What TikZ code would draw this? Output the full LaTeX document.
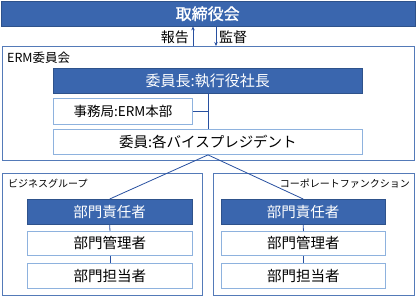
\documentclass[tikz,border=0pt]{standalone}
\usepackage{fontspec}
\setmainfont[AutoFakeBold=1.2]{Noto Sans CJK JP}
\usetikzlibrary{arrows.meta}
\definecolor{hdblue}{RGB}{58,102,174}
\definecolor{outerline}{RGB}{84,122,184}
\definecolor{innerline}{RGB}{142,178,222}
\definecolor{lnblue}{RGB}{40,80,160}
\tikzset{
  box/.style={draw, minimum width=#1, minimum height=25pt, inner sep=0pt, anchor=north west},
  hdbox/.style={box=#1, fill=hdblue, draw=hdblue!80!black, text=white},
  wbox/.style={box=#1, fill=white, draw=innerline, line width=0.9pt},
  outer/.style={draw=outerline, line width=0.9pt, fill=white},
  conn/.style={draw=lnblue, line width=0.8pt},
}
\begin{document}
\begin{tikzpicture}[x=1pt,y=-1pt]
\useasboundingbox (0,0) rectangle (416,297);
% board
\node[hdbox=414pt, minimum height=25pt, font=\fontsize{16}{18}\selectfont\bfseries] (board) at (0.5,1) {取締役会};
% ERM outer
\node[outer, minimum width=412pt, minimum height=114pt, anchor=north west, inner sep=0pt] (erm) at (2,46) {};
\node[anchor=north west, inner sep=0pt, font=\fontsize{12.5}{14}\selectfont] (ermlbl) at (7,52) {ERM委員会};
% arrows
\coordinate (upstart) at (193,46);
\coordinate (dnend) at (216,46);
\draw[conn, -{Stealth[length=4pt,width=3.5pt]}] (upstart) -- (upstart |- board.south);
\draw[conn, {Stealth[length=4pt,width=3.5pt]}-] (dnend) -- (dnend |- board.south);
\node[anchor=east, inner sep=0pt, font=\fontsize{14}{16}\selectfont] (hokoku) at (189,37) {報告};
\node[anchor=west, inner sep=0pt, font=\fontsize{14}{16}\selectfont] (kantoku) at (219,37) {監督};
% ERM content
\node[hdbox=309pt, font=\fontsize{15}{17}\selectfont] (chair) at (53,68) {委員長:執行役社長};
\node[wbox=139pt, minimum height=26pt, font=\fontsize{13.5}{15}\selectfont] (sec) at (53,98) {事務局:ERM本部};
\node[wbox=309pt, font=\fontsize{14.5}{16}\selectfont] (mem) at (53,129) {委員:各バイスプレジデント};
\coordinate (jn) at (208,111);
\draw[conn] (chair.south -| jn) -- (mem.north -| jn);
\draw[conn] (sec.east) -- (sec.east -| jn);
% groups
\node[outer, minimum width=200pt, minimum height=122pt, anchor=north west, inner sep=0pt] (gl) at (2,173) {};
\node[outer, minimum width=201pt, minimum height=122pt, anchor=north west, inner sep=0pt] (gr) at (213,173) {};
\node[anchor=north west, inner sep=0pt, font=\fontsize{10}{12}\selectfont] (gllbl) at (8,179) {ビジネスグループ};
\node[anchor=north east, inner sep=0pt, font=\fontsize{10}{12}\selectfont] (grlbl) at (410,179) {コーポレートファンクション};
% left column
\node[hdbox=165pt, font=\fontsize{14.5}{16}\selectfont] (lh) at (27,199) {部門責任者};
\node[wbox=165pt, minimum height=24pt, font=\fontsize{14.5}{16}\selectfont] (lm) at (27,231) {部門管理者};
\node[wbox=165pt, font=\fontsize{14.5}{16}\selectfont] (ll) at (27,263) {部門担当者};
% right column
\node[hdbox=164pt, font=\fontsize{14.5}{16}\selectfont] (rh) at (221,199) {部門責任者};
\node[wbox=164pt, minimum height=24pt, font=\fontsize{14.5}{16}\selectfont] (rm) at (221,231) {部門管理者};
\node[wbox=164pt, font=\fontsize{14.5}{16}\selectfont] (rl) at (221,263) {部門担当者};
\draw[conn] (lh.south) -- (lm.north);
\draw[conn] (lm.south) -- (ll.north);
\draw[conn] (rh.south) -- (rm.north);
\draw[conn] (rm.south) -- (rl.north);
% fan out
\draw[conn] (lh.north) -- (mem.south -| jn) -- (rh.north);
\end{tikzpicture}
\end{document}
